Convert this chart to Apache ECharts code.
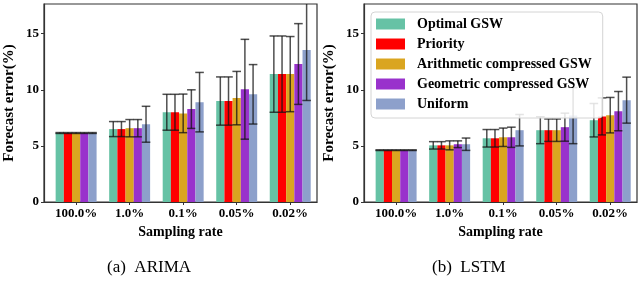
<!DOCTYPE html>
<html>
<head>
<meta charset="utf-8">
<script src="https://cdn.jsdelivr.net/npm/echarts@6/dist/echarts.min.js"></script>
<style>
  html, body { margin: 0; padding: 0; background: #fff; }
  #chart { width: 639px; height: 284px; }
</style>
</head>
<body>
<div id="chart"></div>
<script>
  // sampling rates on the x axis
  var categories = ['100.0%', '1.0%', '0.1%', '0.05%', '0.02%']
  var seriesNames = ['Optimal GSW', 'Priority', 'Arithmetic compressed GSW', 'Geometric compressed GSW', 'Uniform']
  var yTicks = [0, 5, 10, 15]

  // (a) ARIMA - mean forecast error and error bar half-length
  var optimalA = [6.15, 6.5, 8.0, 9.0, 11.4]
  var priorityA = [6.15, 6.5, 8.0, 9.0, 11.4]
  var arithA = [6.15, 6.58, 7.9, 9.26, 11.4]
  var geoA = [6.15, 6.58, 8.28, 10.05, 12.3]
  var uniformA = [6.15, 6.93, 8.9, 9.6, 13.55]
  var optimalAErr = [0.04, 0.67, 1.6, 2.15, 3.4]
  var priorityAErr = [0.04, 0.67, 1.6, 2.15, 3.4]
  var arithAErr = [0.04, 0.77, 1.72, 2.38, 3.35]
  var geoAErr = [0.04, 0.77, 1.72, 4.45, 3.6]
  var uniformAErr = [0.04, 1.6, 2.65, 2.65, 4.5]

  // (b) LSTM
  var optimalL = [4.62, 5.05, 5.68, 6.4, 7.29]
  var priorityL = [4.62, 5.05, 5.68, 6.4, 7.63]
  var arithL = [4.62, 5.05, 5.77, 6.4, 7.74]
  var geoL = [4.62, 5.15, 5.77, 6.67, 8.1]
  var uniformL = [4.62, 5.15, 6.4, 7.7, 9.08]
  var optimalLErr = [0.03, 0.33, 0.78, 1.2, 1.49]
  var priorityLErr = [0.03, 0.33, 0.78, 1.0, 1.65]
  var arithLErr = [0.03, 0.4, 0.82, 1.0, 1.58]
  var geoLErr = [0.03, 0.3, 0.9, 1.25, 1.75]
  var uniformLErr = [0.03, 0.55, 1.4, 2.5, 2.05]

  var colors = ['#66c2a5', '#ff0000', '#daa520', '#9932cc', '#8da0cb']
  var BAR_W = 0.153
  var FONT = '"Liberation Serif", "DejaVu Serif", serif'

  function makeSeries(means, errs, k, idx) {
    return {
      name: seriesNames[k],
      type: 'custom',
      xAxisIndex: idx,
      yAxisIndex: idx,
      clip: true,
      itemStyle: { color: colors[k] },
      encode: { x: 0, y: 1 },
      data: means.map(function (v, i) { return [i, v, errs[i]] }),
      renderItem: function (params, api) {
        var i = api.value(0), v = api.value(1), e = api.value(2)
        var x = i + (k - 2) * BAR_W
        var p0 = api.coord([x - BAR_W / 2, 0])
        var p1 = api.coord([x + BAR_W / 2, v])
        var lo = api.coord([x, v - e])
        var hi = api.coord([x, v + e])
        var cap = 4.3
        var errStyle = { stroke: 'rgba(20,20,20,0.75)', lineWidth: 1.5 }
        return {
          type: 'group',
          children: [
            { type: 'rect', shape: { x: p0[0], y: p1[1], width: p1[0] - p0[0], height: p0[1] - p1[1] }, style: { fill: colors[k] } },
            { type: 'line', shape: { x1: lo[0], y1: lo[1], x2: hi[0], y2: hi[1] }, style: errStyle },
            { type: 'line', shape: { x1: lo[0] - cap, y1: lo[1], x2: lo[0] + cap, y2: lo[1] }, style: errStyle },
            { type: 'line', shape: { x1: hi[0] - cap, y1: hi[1], x2: hi[0] + cap, y2: hi[1] }, style: errStyle }
          ]
        }
      }
    }
  }

  function xAxisFor(idx) {
    return {
      type: 'value', gridIndex: idx, min: -0.6, max: 4.5,
      name: 'Sampling rate', nameLocation: 'middle', nameGap: 22,
      nameTextStyle: { fontFamily: FONT, fontWeight: 'bold', fontSize: 14, color: '#000' },
      axisLine: { onZero: false, lineStyle: { color: '#333', width: 1.2 } },
      axisTick: { show: true, length: 3, customValues: [0, 1, 2, 3, 4], lineStyle: { color: '#333' } },
      axisLabel: {
        customValues: [0, 1, 2, 3, 4], margin: 5,
        fontFamily: FONT, fontWeight: 'bold', fontSize: 13, color: '#000',
        formatter: function (v) { return categories[Math.round(v)] }
      },
      splitLine: { show: false }
    }
  }

  function yAxisFor(idx) {
    return {
      type: 'value', gridIndex: idx, min: 0, max: 17.65,
      name: 'Forecast error(%)', nameLocation: 'middle', nameGap: 27,
      nameTextStyle: { fontFamily: FONT, fontWeight: 'bold', fontSize: 15, color: '#000' },
      axisLine: { show: true, onZero: false, lineStyle: { color: '#333', width: 1.2 } },
      axisTick: { show: true, length: 3, customValues: yTicks, lineStyle: { color: '#333' } },
      axisLabel: { customValues: yTicks, margin: 5, fontFamily: FONT, fontWeight: 'bold', fontSize: 13, color: '#000' },
      splitLine: { show: false }
    }
  }

  var chart = echarts.init(document.getElementById('chart'), null, { renderer: 'canvas' })
  var series = [
    makeSeries(optimalA, optimalAErr, 0, 0),
    makeSeries(priorityA, priorityAErr, 1, 0),
    makeSeries(arithA, arithAErr, 2, 0),
    makeSeries(geoA, geoAErr, 3, 0),
    makeSeries(uniformA, uniformAErr, 4, 0),
    makeSeries(optimalL, optimalLErr, 0, 1),
    makeSeries(priorityL, priorityLErr, 1, 1),
    makeSeries(arithL, arithLErr, 2, 1),
    makeSeries(geoL, geoLErr, 3, 1),
    makeSeries(uniformL, uniformLErr, 4, 1)
  ]

  chart.setOption({
    animation: false,
    grid: [
      { left: 44, top: 4, width: 273, height: 198, show: true, borderColor: '#333', borderWidth: 1.2, backgroundColor: 'transparent' },
      { left: 364, top: 4, width: 273, height: 198, show: true, borderColor: '#333', borderWidth: 1.2, backgroundColor: 'transparent' }
    ],
    legend: {
      data: seriesNames,
      orient: 'vertical',
      left: 371, top: 12,
      icon: 'rect',
      itemWidth: 29, itemHeight: 11, itemGap: 6,
      padding: [5, 11, 7, 5],
      backgroundColor: 'rgba(255,255,255,0.85)',
      borderColor: '#d4d4d4', borderWidth: 1, borderRadius: 4,
      textStyle: { fontFamily: FONT, fontWeight: 'bold', fontSize: 14, color: '#000', padding: [0, 0, 0, 7] },
      z: 10
    },
    xAxis: [xAxisFor(0), xAxisFor(1)],
    yAxis: [yAxisFor(0), yAxisFor(1)],
    graphic: [
      { type: 'text', left: 107, top: 259, style: { text: '(a)  ARIMA', font: '17px "Liberation Serif", serif', fill: '#000' } },
      { type: 'text', left: 432, top: 259, style: { text: '(b)  LSTM', font: '17px "Liberation Serif", serif', fill: '#000' } }
    ],
    series: series
  })
</script>
</body>
</html>
